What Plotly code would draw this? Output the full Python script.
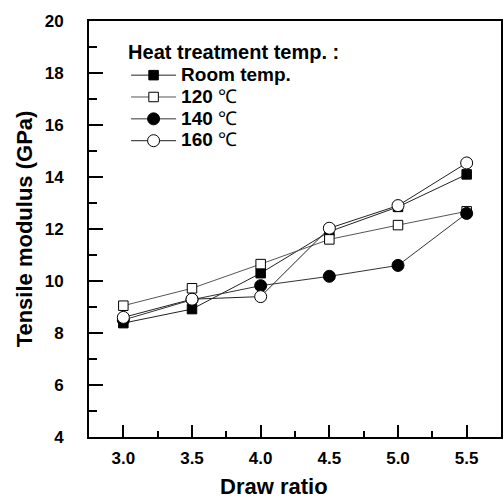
import plotly.graph_objects as go

draw_ratio = [3.0, 3.5, 4.0, 4.5, 5.0, 5.5]
room_temp = [8.38, 8.92, 10.3, 11.9, 12.85, 14.1]
temp_120 = [9.05, 9.72, 10.65, 11.6, 12.15, 12.68]
temp_140 = [8.5, 9.28, 9.82, 10.18, 10.6, 12.6]
temp_160 = [8.6, 9.3, 9.4, 12.03, 12.9, 14.54]

series_names = [
    '<span style="font-size:19px"><b>Room temp.</b></span>',
    '<span style="font-size:19px"><b>120</b> ℃</span>',
    '<span style="font-size:19px"><b>140</b> ℃</span>',
    '<span style="font-size:19px"><b>160</b> ℃</span>',
]
y_ticks = [4, 6, 8, 10, 12, 14, 16, 18, 20]
x_ticks = [3.0, 3.5, 4.0, 4.5, 5.0, 5.5]

FONT = "Liberation Sans, Arial, sans-serif"

styles = [
    dict(symbol="square", size=9.5, fill="black", lc="#222"),
    dict(symbol="square", size=9.5, fill="white", lc="#555"),
    dict(symbol="circle", size=12, fill="black", lc="#333"),
    dict(symbol="circle", size=12, fill="white", lc="#222"),
]
data = [room_temp, temp_120, temp_140, temp_160]

fig = go.Figure()
for name, ys, st in zip(series_names, data, styles):
    fig.add_trace(go.Scatter(
        x=draw_ratio, y=ys, name=name, mode="lines+markers",
        line=dict(color=st["lc"], width=1),
        marker=dict(symbol=st["symbol"], size=st["size"], color=st["fill"],
                    line=dict(color="black", width=1)),
    ))

fig.add_annotation(
    text="<b>Draw ratio</b>", xref="paper", yref="paper",
    x=0.449, y=-0.118, xanchor="center", yanchor="middle",
    showarrow=False, font=dict(size=22, family=FONT, color="black"),
)

fig.update_layout(
    width=504, height=501,
    margin=dict(l=89, r=1, t=21, b=64),
    paper_bgcolor="white", plot_bgcolor="white",
    font=dict(family=FONT, color="black"),
    showlegend=True,
    legend=dict(
        x=0.09, y=0.955, xanchor="left", yanchor="top",
        bgcolor="rgba(0,0,0,0)", borderwidth=0,
        font=dict(size=14.5, family=FONT, color="black"),
        title=dict(text='<span style="font-size:20px"><b>Heat treatment temp. :</b></span>',
                   font=dict(size=15, family=FONT)),
        itemwidth=45, tracegroupgap=0,
    ),
    xaxis=dict(
        range=[2.75, 5.75], tickvals=x_ticks, ticktext=[f"<b>{v:.1f}</b>" for v in x_ticks],
        ticks="inside", ticklen=12, tickwidth=1.5, tickcolor="black",
        minor=dict(dtick=0.25, tick0=2.75, ticks="inside", ticklen=6, tickwidth=1.5, tickcolor="black"),
        showline=True, linecolor="black", linewidth=2, mirror=True,
        showgrid=False, zeroline=False,
        tickfont=dict(size=17, family=FONT),
        ticklabelstandoff=5,
    ),
    yaxis=dict(
        range=[4, 20], tickvals=y_ticks, ticktext=[f"<b>{v}</b>" for v in y_ticks],
        ticks="inside", ticklen=14, tickwidth=1.5, tickcolor="black",
        minor=dict(dtick=1, tick0=4, ticks="inside", ticklen=8, tickwidth=1.5, tickcolor="black"),
        showline=True, linecolor="black", linewidth=2, mirror=True,
        showgrid=False, zeroline=False,
        tickfont=dict(size=17, family=FONT),
        title=dict(text="<b>Tensile modulus (GPa)</b>", font=dict(size=22, family=FONT), standoff=6),
        ticklabelstandoff=20,
    ),
)

fig.write_html("out.html")
